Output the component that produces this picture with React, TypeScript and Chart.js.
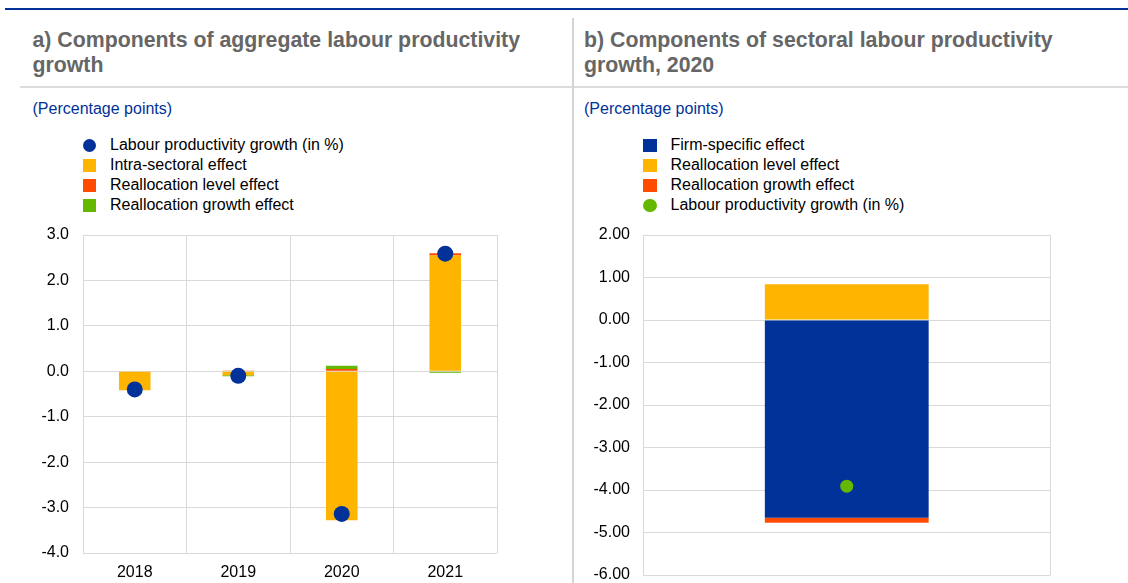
import React, { useEffect, useRef } from "react";
import { Chart, registerables } from "chart.js";

Chart.register(...registerables);

const FONT = '"Liberation Sans", Arial, Helvetica, sans-serif';
const BLUE = "#003299";
const YELLOW = "#FFB400";
const ORANGE = "#FF4B00";
const GREEN = "#65B800";
const GRID = "#d9d9d9";

// ---- Panel a: components of aggregate labour productivity growth ----
const yearsA = ["2018", "2019", "2020", "2021"];
const intraSectoral = [-0.42, -0.09, -3.28, 2.55];
const reallocLevelA = [0.0, 0.02, 0.05, 0.05];
const reallocGrowthA = [0.0, -0.02, 0.07, -0.03];
const productivityA = [-0.4, -0.1, -3.14, 2.59];
const yRangeA = [-4, 3];

// ---- Panel b: components of sectoral labour productivity growth, 2020 ----
const categoriesB = ["2020"];
const firmSpecific = [-4.65];
const reallocLevelB = [0.84];
const reallocGrowthB = [-0.12];
const productivityB = [-3.91];
const yRangeB = [-6, 2];

const legendA = [
  { label: "Labour productivity growth (in %)", color: BLUE, shape: "circle" },
  { label: "Intra-sectoral effect", color: YELLOW, shape: "square" },
  { label: "Reallocation level effect", color: ORANGE, shape: "square" },
  { label: "Reallocation growth effect", color: GREEN, shape: "square" },
];
const legendB = [
  { label: "Firm-specific effect", color: BLUE, shape: "square" },
  { label: "Reallocation level effect", color: YELLOW, shape: "square" },
  { label: "Reallocation growth effect", color: ORANGE, shape: "square" },
  { label: "Labour productivity growth (in %)", color: GREEN, shape: "circle" },
];

const tickFont = { family: FONT, size: 16 };
const CLEAR = "rgba(0,0,0,0)";

function makeConfigA(): any {
  return {
    type: "bar",
    data: {
      labels: yearsA,
      datasets: [
        {
          type: "line",
          label: legendA[0].label,
          data: productivityA,
          showLine: false,
          pointRadius: 8,
          pointHoverRadius: 8,
          pointBackgroundColor: BLUE,
          pointBorderWidth: 0,
          borderColor: BLUE,
          backgroundColor: BLUE,
          order: -1,
          stack: "dots",
        },
        { label: legendA[1].label, data: intraSectoral, backgroundColor: YELLOW, stack: "s", order: 1 },
        { label: legendA[2].label, data: reallocLevelA, backgroundColor: ORANGE, stack: "s", order: 1 },
        { label: legendA[3].label, data: reallocGrowthA, backgroundColor: GREEN, stack: "s", order: 1 },
      ],
    },
    options: {
      responsive: false,
      animation: false,
      devicePixelRatio: 1,
      layout: { padding: { top: 15, right: 6, bottom: 0, left: 0 } },
      plugins: { legend: { display: false }, tooltip: { enabled: false } },
      datasets: { bar: { categoryPercentage: 1, barPercentage: 0.305, borderWidth: 0 } },
      scales: {
        x: {
          stacked: true,
          grid: { color: GRID, lineWidth: 1, drawTicks: false, offset: true },
          border: { display: false },
          ticks: { padding: 10, color: "#000", font: tickFont },
          afterFit: (s: any) => {
            s.height = 30;
          },
        },
        y: {
          stacked: true,
          min: yRangeA[0],
          max: yRangeA[1],
          grid: { color: GRID, lineWidth: 1, drawTicks: true, tickLength: 14, tickColor: CLEAR },
          border: { display: false },
          ticks: {
            stepSize: 1,
            padding: 0,
            color: "#000",
            font: tickFont,
            callback: (v: any) => Number(v).toFixed(1),
          },
          afterFit: (s: any) => {
            s.width = 63;
          },
        },
      },
    },
  };
}

function makeConfigB(): any {
  return {
    type: "bar",
    data: {
      labels: categoriesB,
      datasets: [
        {
          type: "line",
          label: legendB[3].label,
          data: productivityB,
          showLine: false,
          pointRadius: 6.5,
          pointHoverRadius: 6.5,
          pointBackgroundColor: GREEN,
          pointBorderWidth: 0,
          borderColor: GREEN,
          backgroundColor: GREEN,
          order: -1,
          stack: "dots",
        },
        { label: legendB[0].label, data: firmSpecific, backgroundColor: BLUE, stack: "s", order: 1 },
        { label: legendB[1].label, data: reallocLevelB, backgroundColor: YELLOW, stack: "s", order: 1 },
        { label: legendB[2].label, data: reallocGrowthB, backgroundColor: ORANGE, stack: "s", order: 1 },
      ],
    },
    options: {
      responsive: false,
      animation: false,
      devicePixelRatio: 1,
      layout: { padding: { top: 15, right: 4, bottom: 10, left: 0 } },
      plugins: { legend: { display: false }, tooltip: { enabled: false } },
      datasets: { bar: { categoryPercentage: 1, barPercentage: 0.402, borderWidth: 0 } },
      scales: {
        x: {
          stacked: true,
          grid: { color: GRID, lineWidth: 1, drawTicks: false, offset: true },
          border: { display: false },
          ticks: { display: false },
          afterFit: (s: any) => {
            s.height = 0;
          },
        },
        y: {
          stacked: true,
          min: yRangeB[0],
          max: yRangeB[1],
          grid: { color: GRID, lineWidth: 1, drawTicks: true, tickLength: 13, tickColor: CLEAR },
          border: { display: false },
          ticks: {
            stepSize: 1,
            padding: 0,
            color: "#000",
            font: tickFont,
            callback: (v: any) => Number(v).toFixed(2),
          },
          afterFit: (s: any) => {
            s.width = 63;
          },
        },
      },
    },
  };
}

function ChartCanvas(props: { make: () => any; left: number; top: number; width: number; height: number }) {
  const ref = useRef<HTMLCanvasElement | null>(null);
  useEffect(() => {
    if (!ref.current) return;
    const chart = new Chart(ref.current, props.make());
    return () => chart.destroy();
  }, []);
  return (
    <canvas
      ref={ref}
      width={props.width}
      height={props.height}
      style={{ position: "absolute", left: props.left, top: props.top, width: props.width, height: props.height }}
    />
  );
}

function Legend(props: { items: { label: string; color: string; shape: string }[]; left: number; textOffset: number }) {
  return (
    <div style={{ position: "absolute", left: props.left, top: 135 }}>
      {props.items.map((it) => (
        <div key={it.label} style={{ position: "relative", height: 20, lineHeight: "20px", fontSize: 16, color: "#000", whiteSpace: "nowrap" }}>
          {it.shape === "circle" ? (
            <span
              style={{
                position: "absolute",
                left: 0,
                top: 3.5,
                width: 13.5,
                height: 13.5,
                borderRadius: "50%",
                background: it.color,
              }}
            />
          ) : (
            <span style={{ position: "absolute", left: 0, top: 4, width: 13.5, height: 12.5, background: it.color }} />
          )}
          <span style={{ position: "absolute", left: props.textOffset, top: 0 }}>{it.label}</span>
        </div>
      ))}
    </div>
  );
}

const titleStyle: any = {
  position: "absolute",
  top: 28,
  fontSize: 21.3,
  lineHeight: "24.5px",
  fontWeight: "bold",
  color: "#666666",
};
const unitStyle: any = {
  position: "absolute",
  top: 100,
  fontSize: 16,
  lineHeight: "18px",
  color: BLUE,
  whiteSpace: "nowrap",
};

export default function App() {
  return (
    <div
      style={{
        position: "fixed",
        left: 0,
        top: 0,
        width: 1128,
        height: 583,
        overflow: "hidden",
        background: "#fff",
        fontFamily: FONT,
      }}
    >
      <div style={{ position: "absolute", left: 5, top: 8, width: 1123, height: 2, background: BLUE }} />
      <div style={{ position: "absolute", left: 20, top: 86, width: 1108, height: 2, background: "#dcdcdc" }} />
      <div style={{ position: "absolute", left: 572, top: 18, width: 1.5, height: 565, background: "#d4d4d4" }} />

      <div style={{ ...titleStyle, left: 32.5, width: 540 }}>a) Components of aggregate labour productivity growth</div>
      <div style={{ ...titleStyle, left: 584, width: 520 }}>b) Components of sectoral labour productivity growth, 2020</div>

      <div style={{ ...unitStyle, left: 32.5 }}>(Percentage points)</div>
      <div style={{ ...unitStyle, left: 584 }}>(Percentage points)</div>

      <Legend items={legendA} left={82.5} textOffset={27.5} />
      <Legend items={legendB} left={643} textOffset={27.5} />

      <ChartCanvas make={makeConfigA} left={20} top={220} width={485} height={363} />
      <ChartCanvas make={makeConfigB} left={580} top={220} width={477} height={365} />
    </div>
  );
}
